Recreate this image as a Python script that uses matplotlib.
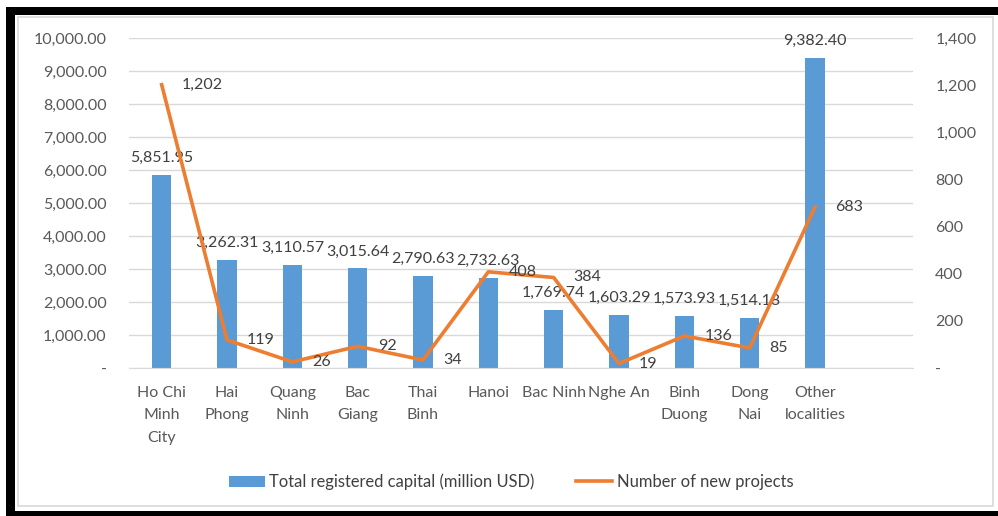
import matplotlib.pyplot as plt
from matplotlib.patches import Rectangle
from matplotlib.lines import Line2D
from matplotlib.ticker import FuncFormatter

# data
localities = ["Ho Chi\nMinh\nCity", "Hai\nPhong", "Quang\nNinh", "Bac\nGiang", "Thai\nBinh",
              "Hanoi", "Bac Ninh", "Nghe An", "Binh\nDuong", "Dong\nNai", "Other\nlocalities"]
capital = [5851.95, 3262.31, 3110.57, 3015.64, 2790.63, 2732.63,
           1769.74, 1603.29, 1573.93, 1514.18, 9382.40]
projects = [1202, 119, 26, 92, 34, 408, 384, 19, 136, 85, 683]

BAR_COLOR = "#5B9BD5"
LINE_COLOR = "#ED7D31"
TEXT = "#404040"
TICK = "#595959"
GRID = "#D9D9D9"

plt.rcParams["font.family"] = ["Lato", "DejaVu Sans"]

W, H = 998, 516
fig = plt.figure(figsize=(W / 100, H / 100), dpi=100)
fig.patch.set_facecolor("white")

# frame: black shadow border + light grey chart border
for x0, y0, x1, y1 in [(6, 7, 15, 511), (6, 7, 998, 15), (6, 511, 998, 516)]:
    fig.patches.append(Rectangle((x0 / W, 1 - y1 / H), (x1 - x0) / W, (y1 - y0) / H,
                                 transform=fig.transFigure, facecolor="black",
                                 edgecolor="none"))
fig.patches.append(Rectangle((18 / W, 1 - 506 / H), (993 - 18) / W, (506 - 17) / H,
                             transform=fig.transFigure, facecolor="none",
                             edgecolor=GRID, linewidth=1.2))

ax = fig.add_axes([129 / W, 1 - 368 / H, (913 - 129) / W, (368 - 38) / H])
ax2 = ax.twinx()

x = list(range(len(localities)))
ax.bar(x, capital, width=0.3, color=BAR_COLOR, zorder=2)
ax.set_ylim(0, 10000)
ax.set_yticks(range(0, 10001, 1000))
ax.yaxis.set_major_formatter(FuncFormatter(lambda v, p: "-" if v == 0 else f"{v:,.2f}"))
ax.set_xlim(-0.5, len(localities) + 0.5)
ax.set_xticks(x)
ax.set_xticklabels(localities, linespacing=1.75, va="top")
ax.grid(axis="y", color=GRID, linewidth=1, zorder=0)
ax.set_axisbelow(True)

ax2.plot(x, projects, color=LINE_COLOR, linewidth=2.6, zorder=3)
ax2.set_ylim(0, 1400)
ax2.set_yticks(range(0, 1401, 200))
ax2.yaxis.set_major_formatter(FuncFormatter(lambda v, p: "-" if v == 0 else f"{int(v):,}"))

for a in (ax, ax2):
    for s in a.spines.values():
        s.set_visible(False)
    a.tick_params(length=0, labelsize=11.5, colors=TICK)
ax.tick_params(axis="y", pad=16)
ax.tick_params(axis="x", pad=13)
ax2.tick_params(axis="y", pad=16)
ax.spines["bottom"].set_visible(True)
ax.spines["bottom"].set_color(GRID)

for xi, v in zip(x, capital):
    ax.annotate(f"{v:,.2f}", (xi, v), xytext=(0, 10), textcoords="offset pixels",
                ha="center", va="bottom", fontsize=11.5, color=TEXT)
for xi, v in zip(x, projects):
    ax2.annotate(f"{v:,}", (xi, v), xytext=(20, 0), textcoords="offset pixels",
                 ha="left", va="center", fontsize=11.5, color=TEXT)

handles = [Rectangle((0, 0), 1, 1, facecolor=BAR_COLOR),
           Line2D([], [], color=LINE_COLOR, linewidth=2.6)]
fig.legend(handles, ["Total registered capital (million USD)", "Number of new projects"],
           loc="center", bbox_to_anchor=(511 / W, 1 - 482 / H), ncol=2, frameon=False,
           fontsize=11.9, labelcolor=TEXT, handlelength=2.2, handleheight=0.7,
           handletextpad=0.25, columnspacing=2.5)

fig.savefig("out.png", dpi=100, facecolor="white")
